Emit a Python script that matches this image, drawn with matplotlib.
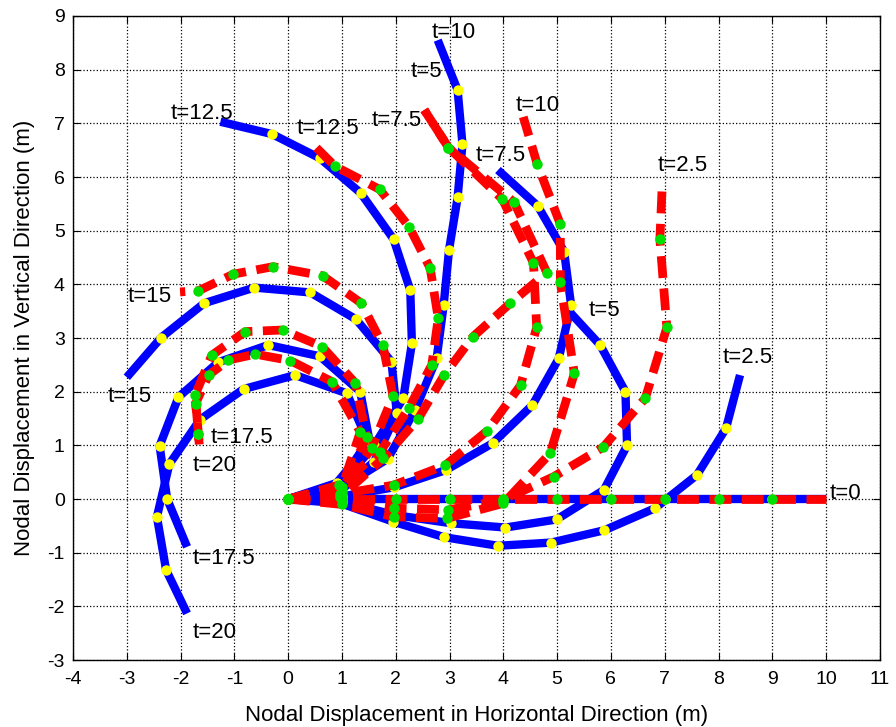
import matplotlib.pyplot as plt

plt.rcParams['font.family'] = ['Liberation Sans', 'DejaVu Sans']
plt.rcParams['axes.unicode_minus'] = False

times = ["0", "2.5", "5", "7.5", "10", "12.5", "15", "17.5", "20"]

# modelo 1 (linea azul, nodos amarillos)
bx_0 = [0, 1, 2, 3, 4, 5, 6, 7, 8, 9, 10]
by_0 = [0, 0, 0, 0, 0, 0, 0, 0, 0, 0, 0]
bx_25 = [0, 0.98, 1.95, 2.9, 3.9, 4.89, 5.88, 6.82, 7.6, 8.14, 8.4]
by_25 = [0, -0.08, -0.42, -0.71, -0.87, -0.81, -0.58, -0.17, 0.45, 1.32, 2.31]
bx_5 = [0, 1.0, 2.0, 3.03, 4.04, 4.99, 5.87, 6.3, 6.27, 5.8, 5.22]
by_5 = [0, -0.05, -0.3, -0.45, -0.53, -0.38, 0.17, 1.0, 2.0, 2.87, 3.5]
bx_75 = [0, 1.0, 1.97, 2.93, 3.8, 4.54, 5.03, 5.26, 5.13, 4.64, 3.9]
by_75 = [0, 0.05, 0.22, 0.54, 1.04, 1.75, 2.62, 3.61, 4.61, 5.46, 6.13]
bx_10 = [0, 0.97, 1.85, 2.36, 2.76, 2.89, 2.99, 3.15, 3.24, 3.15, 2.78]
by_10 = [0, 0.2, 0.75, 1.66, 2.62, 3.61, 4.64, 5.62, 6.61, 7.62, 8.55]
bx_125 = [0, 0.96, 1.6, 2.14, 2.3, 2.27, 1.96, 1.35, 0.59, -0.3, -1.26]
by_125 = [0, 0.25, 1.0, 1.88, 2.9, 3.89, 4.84, 5.7, 6.35, 6.8, 7.03]
bx_15 = [0, 0.85, 1.6, 2.02, 1.92, 1.26, 0.41, -0.63, -1.56, -2.36, -3.0]
by_15 = [0, 0.05, 0.7, 1.6, 2.56, 3.35, 3.85, 3.94, 3.65, 3.01, 2.27]
bx_175 = [0, 0.9, 1.52, 1.34, 0.59, -0.37, -1.3, -2.04, -2.39, -2.25, -1.88]
by_175 = [0, 0.3, 1.04, 2.0, 2.66, 2.87, 2.55, 1.9, 0.99, 0.0, -0.89]
bx_20 = [0, 0.93, 1.48, 1.09, 0.13, -0.83, -1.64, -2.21, -2.44, -2.27, -1.88]
by_20 = [0, 0.25, 1.08, 1.97, 2.31, 2.05, 1.48, 0.65, -0.33, -1.32, -2.13]

# modelo 2 (linea roja discontinua, nodos verdes)
rx_0 = [0, 1, 2, 3, 4, 5, 6, 7, 8, 9, 10]
ry_0 = [0, 0, 0, 0, 0, 0, 0, 0, 0, 0, 0]
rx_25 = [0, 1.0, 1.96, 2.98, 3.99, 4.94, 5.86, 6.64, 7.04, 6.91, 6.95]
ry_25 = [0, -0.02, -0.17, -0.2, -0.02, 0.42, 0.97, 1.88, 3.2, 4.84, 5.76]
rx_5 = [0, 1.0, 1.96, 2.92, 3.7, 4.32, 4.62, 4.56, 3.98, 2.98, 2.53]
ry_5 = [0, 0.1, 0.26, 0.63, 1.27, 2.12, 3.2, 4.4, 5.59, 6.55, 7.25]
rx_75 = [0, 0.97, 1.77, 2.42, 2.9, 3.43, 4.13, 4.81, 4.2, 2.98, 2.53]
ry_75 = [0, 0.04, 0.76, 1.5, 2.31, 3.02, 3.65, 4.22, 5.53, 6.55, 7.25]
rx_10 = [0, 1.0, 1.96, 2.95, 4.0, 4.87, 5.32, 5.06, 5.06, 4.63, 4.37]
ry_10 = [0, -0.1, -0.33, -0.36, -0.08, 0.85, 2.34, 4.04, 5.12, 6.24, 7.12]
rx_125 = [0, 0.94, 1.71, 2.24, 2.67, 2.79, 2.64, 2.25, 1.7, 0.87, 0.41]
ry_125 = [0, 0.26, 0.88, 1.69, 2.5, 3.37, 4.3, 5.07, 5.77, 6.2, 6.66]
rx_15 = [0, 0.97, 1.55, 1.95, 1.76, 1.36, 0.64, -0.28, -1.02, -1.67, -2.01]
ry_15 = [0, 0.1, 0.95, 1.92, 2.87, 3.65, 4.16, 4.33, 4.19, 3.88, 3.86]
rx_175 = [0, 1.0, 1.46, 1.25, 0.63, -0.1, -0.8, -1.42, -1.73, -1.67, -1.66]
ry_175 = [0, 0.15, 1.16, 2.16, 2.84, 3.15, 3.12, 2.68, 1.94, 1.22, 1.1]
rx_20 = [0, 1.0, 1.34, 0.81, 0.04, -0.61, -1.11, -1.48, -1.72, -1.67, -1.64]
ry_20 = [0, 0.22, 1.25, 2.19, 2.58, 2.7, 2.59, 2.31, 1.78, 1.22, 0.85]

azul = [(bx_0, by_0), (bx_25, by_25), (bx_5, by_5), (bx_75, by_75), (bx_10, by_10),
        (bx_125, by_125), (bx_15, by_15), (bx_175, by_175), (bx_20, by_20)]
rojo = [(rx_0, ry_0), (rx_25, ry_25), (rx_5, ry_5), (rx_75, ry_75), (rx_10, ry_10),
        (rx_125, ry_125), (rx_15, ry_15), (rx_175, ry_175), (rx_20, ry_20)]

fig = plt.figure(figsize=(8.96, 7.27), dpi=100)
ax = fig.add_axes([0.0815, 0.092, 0.9005, 0.886])

# los nodos se marcan todos menos el extremo libre
for x, y in azul:
    ax.plot(x, y, color="blue", lw=6, solid_capstyle="butt", solid_joinstyle="miter", zorder=2)
    ax.plot(x[:-1], y[:-1], "o", color="yellow", ms=7.5, mec="none", zorder=3)

for x, y in rojo:
    ax.plot(x, y, color="red", lw=6.3, dashes=(2.5, 1.2), dash_capstyle="butt", zorder=4)
    ax.plot(x[:-1], y[:-1], "o", color="#00e000", ms=7.5, mec="none", zorder=5)

# etiquetas de tiempo, primero las azules y luego las rojas
pos_azul = [(10.07, 0.11), (8.07, 2.63), (5.58, 3.52), (3.49, 6.41), (2.66, 8.7),
            (-2.19, 7.19), (-3.36, 1.92), (-1.77, -1.1), (-1.77, -2.48)]
pos_rojo = [None, (6.86, 6.22), (2.27, 7.97), (1.56, 7.06), (4.22, 7.34),
            (0.15, 6.91), (-2.99, 3.78), (-1.45, 1.14), (-1.77, 0.63)]
for t, p in zip(times, pos_azul):
    ax.text(p[0], p[1], "t=" + t, fontsize=16, ha="left", va="center", zorder=6)
for t, p in zip(times, pos_rojo):
    if p is not None:
        ax.text(p[0], p[1], "t=" + t, fontsize=16, ha="left", va="center", zorder=6)

ax.set_xlim(-4, 11)
ax.set_ylim(-3, 9)
ax.set_xticks(range(-4, 12))
ax.set_yticks(range(-3, 10))
ax.grid(True, color="black", linestyle=":", linewidth=0.9)
ax.set_axisbelow(True)
ax.tick_params(direction="in", top=True, right=True, length=5, labelsize=14)
ax.tick_params(axis="x", pad=8)
ax.tick_params(axis="y", pad=6)
for s in ax.spines.values():
    s.set_linewidth(1.0)
ax.set_xlabel("Nodal Displacement in Horizontal Direction (m)", fontsize=16, labelpad=12)
ax.set_ylabel("Nodal Displacement in Vertical Direction (m)", fontsize=16, labelpad=9)

fig.savefig("out.png", dpi=100)
